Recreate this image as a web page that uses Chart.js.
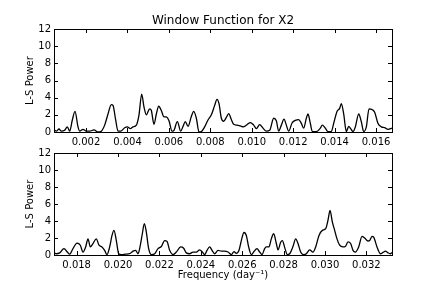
<!DOCTYPE html>
<html>
<head>
<meta charset="utf-8">
<script src="https://cdn.jsdelivr.net/npm/chart.js@4/dist/chart.umd.min.js"></script>
<style>
    html, body { margin: 0; padding: 0; background: #fff; }
    #wrap { position: relative; width: 436px; height: 291px; overflow: hidden; }
    #topChart { position: absolute; left: 0; top: 0; }
    #bottomChart { position: absolute; left: 0; top: 140px; }
    #title { position: absolute; left: 54px; width: 338px; top: 12px; text-align: center;
             font-family: "DejaVu Sans", sans-serif; font-size: 12px; line-height: 16px; color: #000; }
</style>
</head>
<body>
<div id="wrap">
    <canvas id="topChart" width="436" height="150"></canvas>
    <canvas id="bottomChart" width="436" height="151"></canvas>
    <div id="title">Window Function for X2</div>
</div>
<script>
// window function values, split in two frequency ranges
var topFreq = [0.000455, 0.000568, 0.000697, 0.000809, 0.00097, 0.001099, 0.001212, 0.00134, 0.001469, 0.001614,
    0.001694, 0.001855, 0.002016, 0.002177, 0.002386, 0.002579, 0.00274, 0.002901, 0.003062, 0.003223,
    0.003303, 0.003432, 0.003545, 0.003673, 0.003866, 0.003995, 0.00414, 0.004269, 0.00443, 0.004558,
    0.004687, 0.0048, 0.004912, 0.005073, 0.005154, 0.005282, 0.005395, 0.005508, 0.005636, 0.005749,
    0.005878, 0.006006, 0.006151, 0.006232, 0.006409, 0.00657, 0.006682, 0.006795, 0.006924, 0.007084,
    0.007197, 0.007326, 0.007455, 0.007567, 0.007728, 0.007889, 0.00805, 0.008211, 0.008323, 0.00842,
    0.008533, 0.008645, 0.008774, 0.008887, 0.009015, 0.009128, 0.009289, 0.00945, 0.009611, 0.009771,
    0.009932, 0.010093, 0.010222, 0.010383, 0.010544, 0.010704, 0.010865, 0.011058, 0.011187, 0.0113,
    0.011429, 0.011557, 0.01167, 0.011783, 0.011944, 0.012104, 0.012265, 0.012394, 0.012507, 0.012635,
    0.012716, 0.012829, 0.012925, 0.013118, 0.013311, 0.013408, 0.013537, 0.013681, 0.013842, 0.013955,
    0.014116, 0.014244, 0.014325, 0.014438, 0.014566, 0.014679, 0.014775, 0.014888, 0.015001, 0.015162,
    0.01529, 0.015403, 0.015532, 0.01566, 0.015821, 0.015934, 0.016095, 0.016256, 0.016417, 0.016577,
    0.01677];
var topPower = [0.27, 0.1, 0.35, 0.1, 0.2, 0.6, 0.1, 1.4, 2.4, 0.6,
    0.1, 0.3, 0.1, 0.1, 0.25, 0.0, 0.1, 0.8, 2.1, 3.2,
    3.1, 1.4, 0.1, 0.1, 0.5, 0.6, 0.4, 0.6, 0.8, 2.0,
    4.4, 2.9, 2.0, 2.7, 2.5, 0.9, 2.1, 3.0, 2.5, 1.8,
    1.75, 1.3, 0.1, 0.15, 1.2, 0.1, 0.65, 1.2, 0.65, 1.8,
    2.4, 1.6, 0.0, 0.05, 0.6, 1.4, 2.0, 3.1, 3.8, 3.3,
    1.6, 1.25, 1.7, 2.15, 1.45, 0.9, 0.8, 0.7, 0.6, 0.85,
    1.1, 0.8, 0.4, 0.85, 0.45, 0.1, 0.2, 1.6, 1.3, 0.1,
    0.8, 1.5, 0.8, 0.1, 1.05, 1.35, 1.45, 1.0, 0.45, 1.6,
    2.1, 1.0, 0.05, 0.05, 0.45, 0.8, 0.5, 0.05, 0.05, 1.0,
    2.4, 2.75, 3.3, 2.1, 0.05, 0.65, 0.4, 0.05, 0.6, 2.1,
    1.2, 0.05, 0.6, 2.7, 2.6, 2.3, 1.0, 0.6, 0.5, 0.3,
    0.45];

var bottomFreq = [0.016905, 0.017017, 0.017178, 0.017388, 0.017549, 0.017662, 0.017823, 0.018016, 0.018177, 0.018306,
    0.018435, 0.018548, 0.018661, 0.018789, 0.01895, 0.019079, 0.019224, 0.019353, 0.019466, 0.019595,
    0.019708, 0.019804, 0.019917, 0.02003, 0.020159, 0.020368, 0.020561, 0.020723, 0.020851, 0.020964,
    0.021045, 0.021174, 0.02127, 0.021367, 0.02148, 0.021609, 0.02177, 0.021931, 0.022092, 0.022253,
    0.022366, 0.022495, 0.022656, 0.022817, 0.023026, 0.023171, 0.0233, 0.023461, 0.023622, 0.023783,
    0.023945, 0.024073, 0.024186, 0.024299, 0.024428, 0.024541, 0.02467, 0.024831, 0.024992, 0.025153,
    0.025314, 0.025475, 0.025604, 0.025717, 0.025846, 0.025958, 0.026087, 0.0262, 0.026313, 0.026442,
    0.026554, 0.026715, 0.026844, 0.026957, 0.027086, 0.027166, 0.027295, 0.027408, 0.027521, 0.02765,
    0.02773, 0.027859, 0.02794, 0.028069, 0.028182, 0.028294, 0.028455, 0.028584, 0.028697, 0.028826,
    0.028971, 0.0291, 0.029261, 0.029422, 0.029551, 0.029712, 0.029873, 0.030034, 0.030147, 0.030244,
    0.030356, 0.030469, 0.030582, 0.030711, 0.030872, 0.030985, 0.031114, 0.031242, 0.031355, 0.031468,
    0.031629, 0.03179, 0.031919, 0.03208, 0.032161, 0.032273, 0.032354, 0.032515, 0.032676, 0.032805,
    0.032918, 0.033047, 0.03316, 0.03324];
var bottomPower = [0.3, 0.15, 0.25, 0.75, 0.35, 0.1, 0.75, 1.4, 1.15, 0.35,
    0.95, 1.9, 0.95, 1.35, 1.9, 1.15, 0.95, 0.55, 0.05, 0.95,
    2.3, 2.9, 1.7, 0.15, 0.05, 0.1, 0.15, 0.45, 0.55, 0.15,
    0.75, 2.5, 3.7, 2.7, 0.75, 0.05, 0.15, 0.75, 1.0, 1.7,
    1.6, 0.55, 0.05, 0.35, 0.95, 0.8, 0.25, 0.15, 0.35, 0.35,
    0.6, 0.35, 0.05, 0.55, 0.95, 0.55, 0.15, 0.55, 0.45, 0.45,
    0.35, 0.05, 0.4, 0.2, 0.55, 1.7, 2.65, 2.3, 0.95, 0.05,
    0.35, 0.75, 0.35, 0.05, 0.75, 0.95, 0.95, 1.9, 2.5, 1.35,
    0.6, 1.5, 1.7, 0.75, 0.05, 0.15, 1.0, 1.9, 1.35, 0.35,
    0.05, 0.15, 0.6, 0.35, 0.95, 2.3, 2.9, 3.1, 4.1, 5.25,
    3.9, 2.9, 1.9, 1.15, 0.95, 1.0, 1.55, 1.35, 0.55, 0.35,
    0.95, 2.2, 2.0, 1.65, 1.7, 2.2, 2.1, 0.95, 0.15, 0.3,
    0.45, 0.25, 0.15, 0.3];

var topTicks = [0.002, 0.004, 0.006, 0.008, 0.010, 0.012, 0.014, 0.016];
var bottomTicks = [0.018, 0.020, 0.022, 0.024, 0.026, 0.028, 0.030, 0.032];
var powerTicks = [0, 2, 4, 6, 8, 10, 12];

// matplotlib-ish frame with ticks pointing inwards
var frameBox = {
    id: "frameBox",
    afterDraw: function (chart) {
        var ctx = chart.ctx, a = chart.chartArea;
        var xs = chart.scales.x, ys = chart.scales.y;
        ctx.save();
        ctx.strokeStyle = "#000";
        ctx.lineWidth = 1;
        ctx.beginPath();
        xs.ticks.forEach(function (t) {
            var px = Math.round(xs.getPixelForValue(t.value)) + 0.5;
            ctx.moveTo(px, a.bottom); ctx.lineTo(px, a.bottom - 4);
            ctx.moveTo(px, a.top); ctx.lineTo(px, a.top + 4);
        });
        ys.ticks.forEach(function (t) {
            var py = Math.round(ys.getPixelForValue(t.value)) + 0.5;
            ctx.moveTo(a.left, py); ctx.lineTo(a.left + 4, py);
            ctx.moveTo(a.right, py); ctx.lineTo(a.right - 4, py);
        });
        ctx.stroke();
        ctx.strokeRect(Math.round(a.left) + 0.5, Math.round(a.top) + 0.5, Math.round(a.width), Math.round(a.height));
        ctx.restore();
    }
};

function points(fs, ps) {
    return fs.map(function (f, i) { return { x: f, y: ps[i] }; });
}

function makePanel(canvasId, fs, ps, ticks, padTop, xHeight, showXTitle) {
    var ctx = document.getElementById(canvasId).getContext("2d");
    return new Chart(ctx, {
        type: "line",
        data: {
            datasets: [{
                data: points(fs, ps),
                borderColor: "#000",
                borderWidth: 1.3,
                pointRadius: 0,
                cubicInterpolationMode: "monotone",
                fill: false
            }]
        },
        options: {
            responsive: false,
            animation: false,
            layout: { padding: { left: 0, right: 44, top: padTop, bottom: 0 } },
            plugins: { legend: { display: false }, tooltip: { enabled: false } },
            scales: {
                x: {
                    type: "linear",
                    min: fs[0],
                    max: fs[fs.length - 1],
                    grid: { display: false, drawTicks: false },
                    border: { display: false },
                    ticks: {
                        padding: 4,
                        color: "#000",
                        font: { size: 10 },
                        callback: function (v) { return v.toFixed(3); }
                    },
                    afterBuildTicks: function (scale) {
                        scale.ticks = ticks.map(function (v) { return { value: v }; });
                    },
                    afterFit: function (scale) { scale.height = xHeight; },
                    title: {
                        display: showXTitle,
                        text: "Frequency (day\u207B\u00B9)",
                        color: "#000",
                        font: { size: 10 },
                        padding: { top: 0, bottom: 10 }
                    }
                },
                y: {
                    min: 0,
                    max: 12,
                    grid: { display: false, drawTicks: false },
                    border: { display: false },
                    ticks: { padding: 3, color: "#000", font: { size: 10 } },
                    afterBuildTicks: function (scale) {
                        scale.ticks = powerTicks.map(function (v) { return { value: v }; });
                    },
                    afterFit: function (scale) { scale.width = 54; },
                    title: {
                        display: true,
                        text: "L-S Power",
                        color: "#000",
                        font: { size: 10 },
                        padding: { top: 24, bottom: 0 }
                    }
                }
            }
        },
        plugins: [frameBox]
    });
}

document.addEventListener("DOMContentLoaded", function () {
    Chart.defaults.font.family = "'DejaVu Sans', sans-serif";

    // upper panel: low frequencies
    makePanel("topChart", topFreq, topPower, topTicks, 29, 18, false);
    // lower panel: high frequencies
    makePanel("bottomChart", bottomFreq, bottomPower, bottomTicks, 13, 36, true);
});
</script>
</body>
</html>
